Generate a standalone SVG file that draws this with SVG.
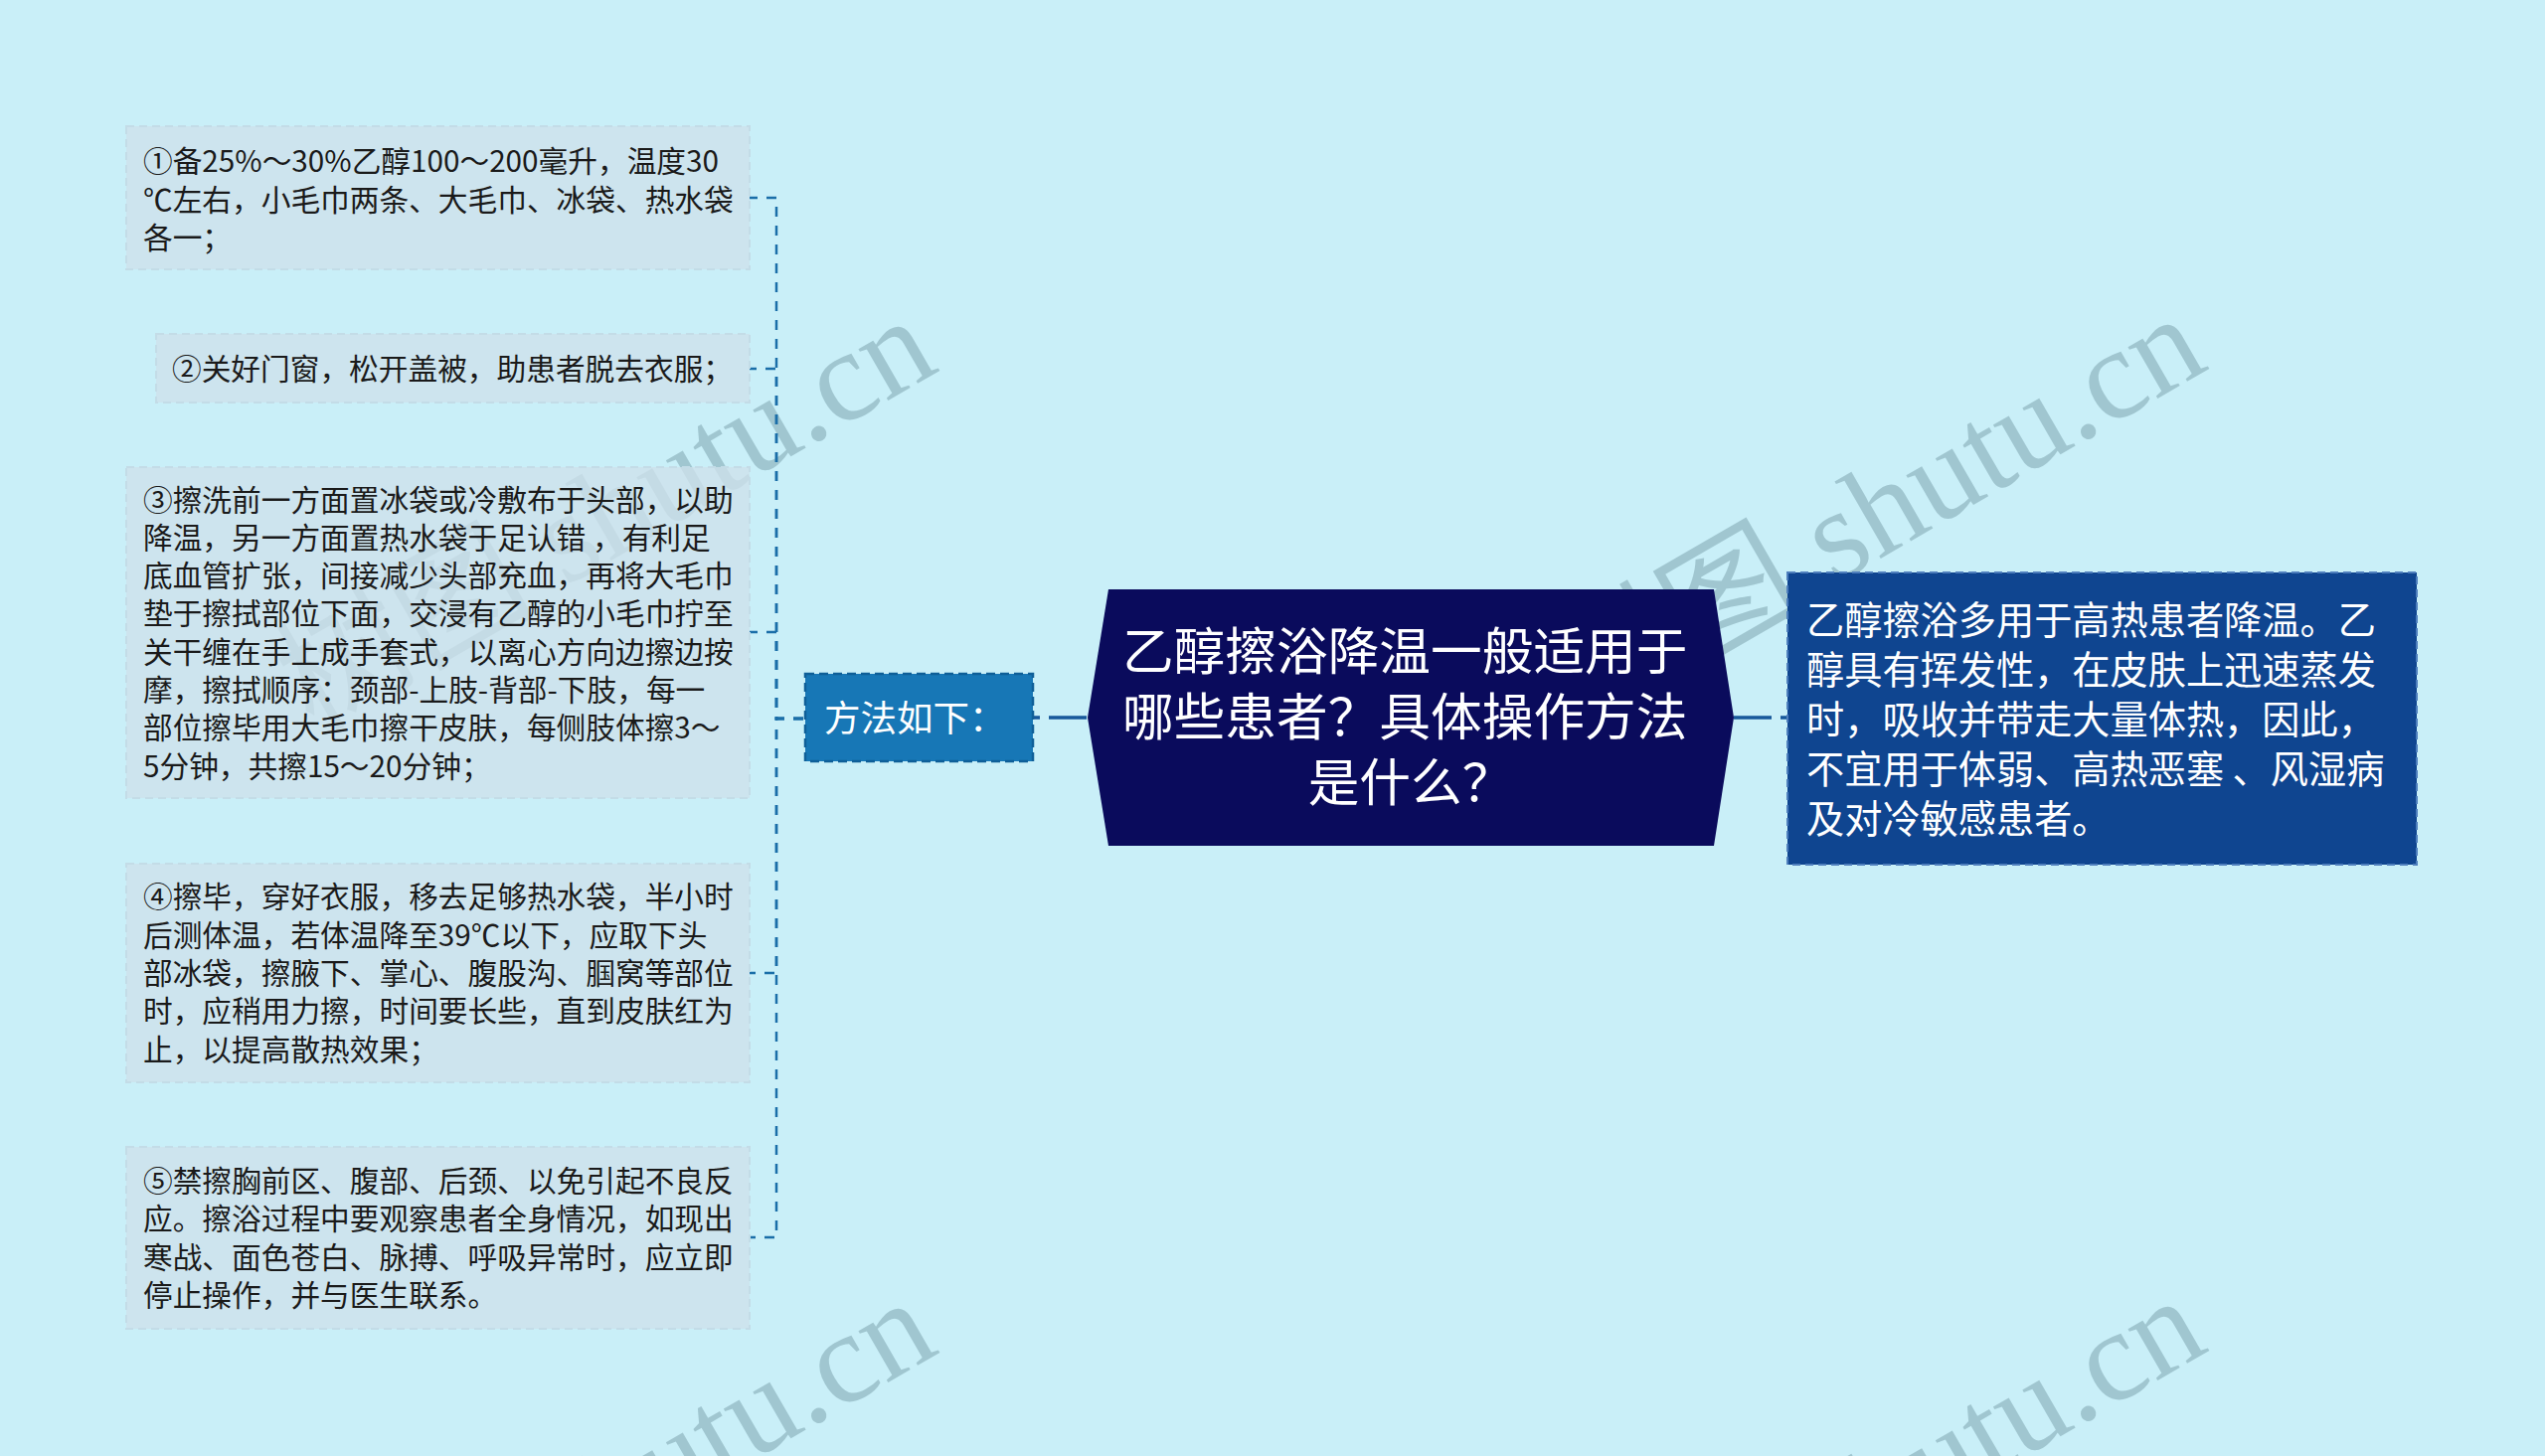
<svg xmlns="http://www.w3.org/2000/svg" width="2560" height="1465" viewBox="0 0 2560 1465">
<style>
.leaf rect{fill:#cee0eb;fill-opacity:0.78;stroke:#c3dce7;stroke-width:2;stroke-dasharray:8 5}
.leaf text{font-family:"Noto Sans CJK SC","Noto Sans",sans-serif;font-size:29.7px;fill:#1a1a1a}
.lc{fill:none;stroke:#1a6ea8;stroke-width:2.5;stroke-dasharray:10 9}
.rc{fill:none;stroke:#17589a;stroke-width:3.5;stroke-dasharray:38 9}
.wm{font-family:"Liberation Serif","Noto Sans CJK SC",serif;font-size:130px;fill:#6f96a1;opacity:0.45}
</style>
<rect x="0" y="0" width="2560" height="1465" fill="#c9eff8"/>
<g id="watermarks">
<text class="wm" text-anchor="end" transform="translate(947,372) rotate(-30)">树图 shutu.cn</text>
<text class="wm" text-anchor="end" transform="translate(2224,370) rotate(-30)">树图 shutu.cn</text>
<text class="wm" text-anchor="end" transform="translate(947,1360) rotate(-30)">树图 shutu.cn</text>
<text class="wm" text-anchor="end" transform="translate(2224,1358) rotate(-30)">树图 shutu.cn</text>
</g>
<g id="connectors">
<path class="lc" d="M808,723 H781 V199 H754"/>
<path class="lc" d="M808,723 H781 V371 H754"/>
<path class="lc" d="M808,723 H781 V636 H754"/>
<path class="lc" d="M808,723 H781 V979 H754"/>
<path class="lc" d="M808,723 H781 V1245 H754"/>
<path class="rc" d="M1093,722 H1039"/>
<path class="rc" d="M1744,722 H1797"/>
</g>
<g id="leaf1" class="leaf">
<rect x="127" y="127" width="627" height="144"/>
<text x="144" y="173">①备25%～30%乙醇100～200毫升，温度30</text>
<text x="144" y="211.5">℃左右，小毛巾两条、大毛巾、冰袋、热水袋</text>
<text x="144" y="250">各一；</text>
</g>
<g id="leaf2" class="leaf">
<rect x="157" y="336" width="597" height="69"/>
<text x="173" y="381.5">②关好门窗，松开盖被，助患者脱去衣服；</text>
</g>
<g id="leaf3" class="leaf">
<rect x="127" y="470" width="627" height="333"/>
<text x="144" y="513.5">③擦洗前一方面置冰袋或冷敷布于头部，以助</text>
<text x="144" y="551.8">降温，另一方面置热水袋于足认错 ，有利足</text>
<text x="144" y="590.1">底血管扩张，间接减少头部充血，再将大毛巾</text>
<text x="144" y="628.4">垫于擦拭部位下面，交浸有乙醇的小毛巾拧至</text>
<text x="144" y="666.7">关干缠在手上成手套式，以离心方向边擦边按</text>
<text x="144" y="705">摩，擦拭顺序：颈部-上肢-背部-下肢，每一</text>
<text x="144" y="743.3">部位擦毕用大毛巾擦干皮肤，每侧肢体擦3～</text>
<text x="144" y="781.6">5分钟，共擦15～20分钟；</text>
</g>
<g id="leaf4" class="leaf">
<rect x="127" y="869" width="627" height="220"/>
<text x="144" y="913.4">④擦毕，穿好衣服，移去足够热水袋，半小时</text>
<text x="144" y="951.7">后测体温，若体温降至39℃以下，应取下头</text>
<text x="144" y="990">部冰袋，擦腋下、掌心、腹股沟、腘窝等部位</text>
<text x="144" y="1028.3">时，应稍用力擦，时间要长些，直到皮肤红为</text>
<text x="144" y="1066.6">止，以提高散热效果；</text>
</g>
<g id="leaf5" class="leaf">
<rect x="127" y="1154" width="627" height="183"/>
<text x="144" y="1199">⑤禁擦胸前区、腹部、后颈、以免引起不良反</text>
<text x="144" y="1237.3">应。擦浴过程中要观察患者全身情况，如现出</text>
<text x="144" y="1275.6">寒战、面色苍白、脉搏、呼吸异常时，应立即</text>
<text x="144" y="1313.9">停止操作，并与医生联系。</text>
</g>
<g id="method">
<rect x="810" y="678" width="229" height="88" fill="#1777b6" stroke="#0f5f98" stroke-width="2.5" stroke-dasharray="9 5"/>
<text x="829" y="736" font-family="Noto Sans CJK SC,sans-serif" font-size="36.5" fill="#ffffff">方法如下：</text>
</g>
<g id="root">
<polygon points="1115,593 1724,593 1744,722 1724,851 1115,851 1094,722" fill="#0a0b5c"/>
<text font-family="Noto Sans CJK SC,sans-serif" font-size="51.7" fill="#ffffff" text-anchor="middle">
<tspan x="1419" y="674">乙醇擦浴降温一般适用于</tspan>
<tspan x="1419" y="740">哪些患者？具体操作方法</tspan>
<tspan x="1419" y="806">是什么？</tspan>
</text>
</g>
<g id="detail">
<rect x="1798" y="576" width="633" height="294" fill="#0f4590" stroke="#4f7fbd" stroke-width="2" stroke-dasharray="8 5"/>
<text font-family="Noto Sans CJK SC,sans-serif" font-size="38.2" fill="#ffffff">
<tspan x="1817" y="637.5">乙醇擦浴多用于高热患者降温。乙</tspan>
<tspan x="1817" y="687.5">醇具有挥发性，在皮肤上迅速蒸发</tspan>
<tspan x="1817" y="737.5">时，吸收并带走大量体热，因此，</tspan>
<tspan x="1817" y="787.5">不宜用于体弱、高热恶塞 、风湿病</tspan>
<tspan x="1817" y="837.5">及对冷敏感患者。</tspan>
</text>
</g>
</svg>
